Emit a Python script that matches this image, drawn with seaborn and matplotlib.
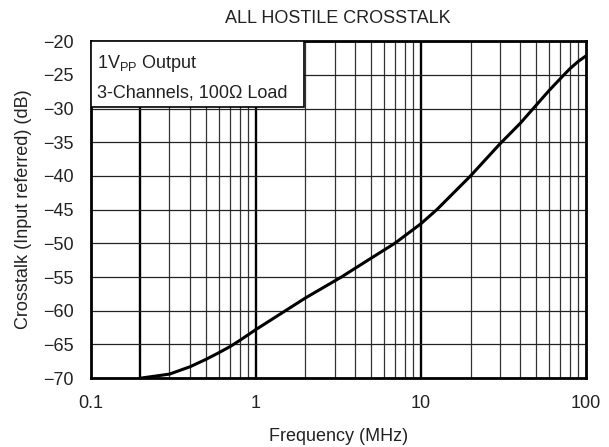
import numpy as np
import pandas as pd
import matplotlib
matplotlib.use("Agg")
import matplotlib.pyplot as plt
import seaborn as sns

sns.set_theme(style="white")
plt.rcParams['font.family'] = ['Liberation Sans', 'DejaVu Sans']

# Valores (frecuencia en MHz, crosstalk en dB)
frecuencia = [0.2, 0.3, 0.4, 0.5, 0.6, 0.7, 0.8, 1, 2, 3.3, 4, 5, 6.95,
              10, 12.5, 20, 30, 40, 48, 60, 73, 80, 90, 100]
crosstalk = [-70.0, -69.4, -68.3, -67.2, -66.2, -65.3, -64.4, -62.8,
             -58.1, -55.0, -53.7, -52.2, -50.0, -47.1, -45.0, -40.0,
             -35.3, -32.2, -30.0, -27.3, -25.1, -24.1, -23.0, -22.2]
df = pd.DataFrame({'freq': frecuencia, 'xtalk': crosstalk})

xticks = [0.1, 1, 10, 100]
xticklabels = ['0.1', '1', '10', '100']
yticks = list(range(-70, -19, 5))
lineas_gruesas = [0.2, 1, 10]

fig = plt.figure(figsize=(6.09, 4.47), dpi=100)
ax = fig.add_axes([0.149, 0.154, 0.813, 0.754])
ax.set_xscale('log')
ax.set_xlim(0.1, 100)
ax.set_ylim(-70, -20)

# Rejilla: lineas menores finas, algunas gruesas
for dec in [0.1, 1, 10]:
    for m in range(2, 10):
        f = dec * m
        if any(np.isclose(f, g) for g in lineas_gruesas):
            continue
        ax.axvline(f, color='#333333', lw=0.9, zorder=1)
for g in lineas_gruesas:
    ax.axvline(g, color='black', lw=1.7, zorder=1)
for y in yticks:
    ax.axhline(y, color='#222222', lw=0.9, zorder=1)

sns.lineplot(data=df, x='freq', y='xtalk', color='black', lw=2.2, ax=ax, zorder=3)

ax.set_xticks(xticks)
ax.set_xticklabels(xticklabels)
ax.set_xticks([], minor=True)
ax.set_yticks(yticks)
ax.tick_params(length=0, labelsize=13, pad=12, colors='#222222')
for s in ax.spines.values():
    s.set_linewidth(2)
    s.set_color('black')

ax.set_xlabel('Frequency (MHz)', fontsize=13, color='#222222', labelpad=12)
ax.set_ylabel('Crosstalk (Input referred) (dB)', fontsize=13, color='#222222', labelpad=8)
ax.set_title('ALL HOSTILE CROSSTALK', fontsize=13, color='#222222', pad=13)

# Recuadro con las condiciones
caja = plt.Rectangle((0, 0.804), 0.43, 0.196, transform=ax.transAxes,
                     facecolor='white', edgecolor='black', lw=1.2, zorder=4)
ax.add_patch(caja)
ax.text(0.012, 0.935, r'1V$_{\mathregular{PP}}$ Output', transform=ax.transAxes,
        fontsize=13, va='center', ha='left', color='#222222', zorder=5)
ax.text(0.012, 0.846, '3-Channels, 100Ω Load', transform=ax.transAxes,
        fontsize=13, va='center', ha='left', color='#222222', zorder=5)

plt.savefig('out.png', dpi=100)
